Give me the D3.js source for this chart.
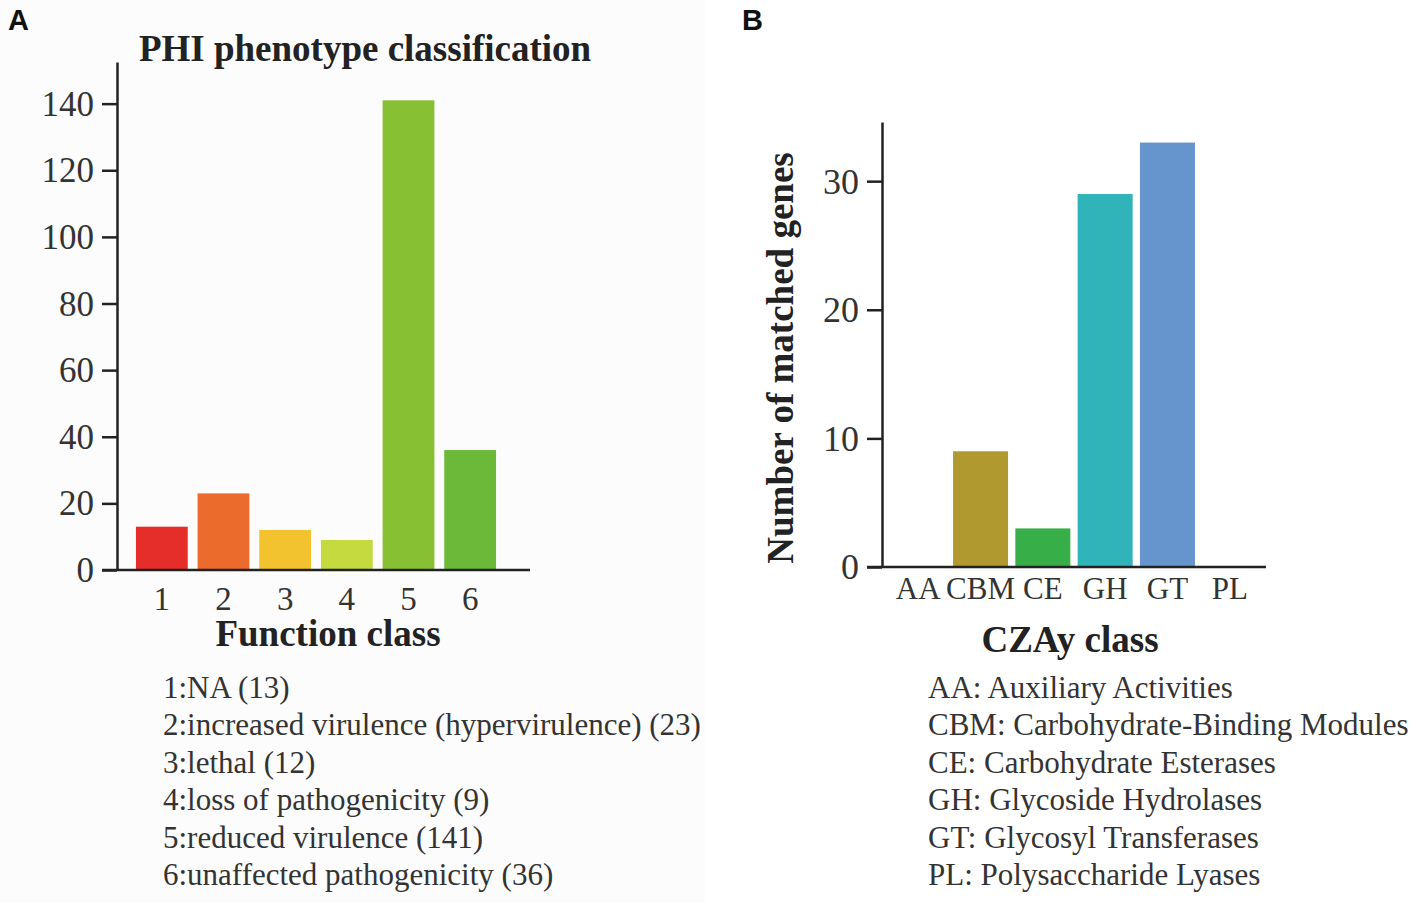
<!DOCTYPE html>
<html>
<head>
<meta charset="utf-8">
<script src="https://cdn.jsdelivr.net/npm/d3@7"></script>
<style>
  body { margin: 0; background: #ffffff; }
  svg { display: block; }
  .serif { font-family: "Liberation Serif", "Times New Roman", serif; }
  .tick text { font-family: "Liberation Serif", "Times New Roman", serif; fill: #333; }
</style>
</head>
<body>
<div id="chart"></div>
<script>
// page size
let svg_width = 1418;
let svg_height = 903;

// panel A data
let phiClasses = ["1", "2", "3", "4", "5", "6"];
let phiCounts = [13, 23, 12, 9, 141, 36];
let phiColors = ["#e52d2a", "#ea6b2c", "#f3c22f", "#c4da3e", "#88c034", "#6cb93a"];
let phiTicks = [0, 20, 40, 60, 80, 100, 120, 140];
let phiLegend = [
  "1:NA (13)",
  "2:increased virulence (hypervirulence) (23)",
  "3:lethal (12)",
  "4:loss of pathogenicity (9)",
  "5:reduced virulence (141)",
  "6:unaffected pathogenicity (36)"
];

// panel B data
let czClasses = ["AA", "CBM", "CE", "GH", "GT", "PL"];
let czCounts = [0, 9, 3, 29, 33, 0];
let czColors = ["#8c8c8c", "#b09a30", "#37ae47", "#30b4ba", "#6694cc", "#8c8c8c"];
let czTicks = [0, 10, 20, 30];
let czLegend = [
  "AA: Auxiliary Activities",
  "CBM: Carbohydrate-Binding Modules",
  "CE: Carbohydrate Esterases",
  "GH: Glycoside Hydrolases",
  "GT: Glycosyl Transferases",
  "PL: Polysaccharide Lyases"
];

let svg = d3.select('#chart')
            .append('svg')
            .attr('width', svg_width)
            .attr('height', svg_height);

// faint panel background like the scanned figure
svg.append('rect').attr('x', 0).attr('y', 0).attr('width', 705).attr('height', 903).attr('fill', '#fcfcfc');

// ================================================
// draws one bar panel
function drawPanel(cfg) {
  let g = svg.append('g');

  let x_scale = d3.scaleBand()
                  .domain(cfg.cats)
                  .range([cfg.x0, cfg.x1])
                  .paddingInner(cfg.padIn)
                  .paddingOuter(cfg.padOut);

  let y_scale = d3.scaleLinear()
                  .domain([0, cfg.yMax])
                  .range([cfg.yBase, cfg.yTop]);

  // bars
  g.selectAll('rect.bar')
    .data(cfg.vals)
    .enter()
    .append('rect')
    .attr('class', 'bar')
    .attr('fill', (d, i) => cfg.colors[i])
    .attr('x', (d, i) => x_scale(cfg.cats[i]))
    .attr('y', d => y_scale(d))
    .attr('width', x_scale.bandwidth())
    .attr('height', d => cfg.yBase - y_scale(d));

  // y axis
  let yAxis = d3.axisLeft(y_scale)
                .tickValues(cfg.ticks)
                .tickSize(cfg.tickLen)
                .tickSizeOuter(0)
                .tickPadding(8);
  let yg = g.append('g')
            .attr('transform', 'translate(' + cfg.axisX + ',0)')
            .call(yAxis);
  yg.select('.domain').attr('stroke', '#222').attr('stroke-width', 2.5);
  yg.selectAll('.tick line').attr('stroke', '#222').attr('stroke-width', 2.5);
  yg.selectAll('.tick text').attr('font-size', cfg.tickFont).attr('dy', '0.33em');

  // x axis
  let xAxis = d3.axisBottom(x_scale).tickSize(0).tickPadding(cfg.xPad);
  let xg = g.append('g')
            .attr('transform', 'translate(0,' + cfg.yBase + ')')
            .call(xAxis);
  xg.select('.domain').remove();
  xg.selectAll('.tick text').attr('font-size', cfg.xFont).attr('dy', '0.62em');
  g.append('line')
    .attr('x1', cfg.axisX - cfg.tickLen).attr('x2', cfg.xEnd)
    .attr('y1', cfg.yBase).attr('y2', cfg.yBase)
    .attr('stroke', '#222').attr('stroke-width', 2.5);

  // x title
  g.append('text')
    .attr('class', 'serif')
    .attr('x', cfg.xTitleX).attr('y', cfg.xTitleY)
    .attr('text-anchor', 'middle')
    .attr('font-size', 37).attr('font-weight', 'bold').attr('fill', '#222')
    .text(cfg.xTitle);

  // legend lines
  g.selectAll('text.leg')
    .data(cfg.legend)
    .enter()
    .append('text')
    .attr('class', 'leg serif')
    .attr('x', cfg.legX)
    .attr('y', (d, i) => 698 + i * 37.4)
    .attr('font-size', 31)
    .attr('fill', '#333')
    .text(d => d);

  // panel letter
  g.append('text')
    .attr('x', cfg.letterX).attr('y', 30)
    .attr('font-family', '"Liberation Sans", Arial, sans-serif')
    .attr('font-size', 29).attr('font-weight', 'bold').attr('fill', '#111')
    .text(cfg.letter);

  return g;
}

let gA = drawPanel({
  cats: phiClasses, vals: phiCounts, colors: phiColors, ticks: phiTicks,
  x0: 131, x1: 501, padIn: 0.16, padOut: 0.08,
  yMax: 152.5, yBase: 570, yTop: 62,
  axisX: 117, tickLen: 15, xEnd: 530, tickFont: 35, xFont: 33, xPad: 20,
  xTitle: 'Function class', xTitleX: 328, xTitleY: 646,
  legend: phiLegend, legX: 163, letter: 'A', letterX: 8
});

gA.append('text')
  .attr('class', 'serif')
  .attr('x', 365).attr('y', 61)
  .attr('text-anchor', 'middle')
  .attr('font-size', 37).attr('font-weight', 'bold').attr('fill', '#222')
  .text('PHI phenotype classification');

let gB = drawPanel({
  cats: czClasses, vals: czCounts, colors: czColors, ticks: czTicks,
  x0: 887, x1: 1261, padIn: 0.117, padOut: 0.06,
  yMax: 34.6, yBase: 567, yTop: 122,
  axisX: 882, tickLen: 15, xEnd: 1266, tickFont: 36, xFont: 31, xPad: 13,
  xTitle: 'CZAy class', xTitleX: 1070, xTitleY: 652,
  legend: czLegend, legX: 928, letter: 'B', letterX: 742
});

gB.append('text')
  .attr('class', 'serif')
  .attr('transform', 'translate(793,358) rotate(-90)')
  .attr('text-anchor', 'middle')
  .attr('font-size', 37).attr('font-weight', 'bold').attr('fill', '#222')
  .text('Number of matched genes');
</script>
</body>
</html>
